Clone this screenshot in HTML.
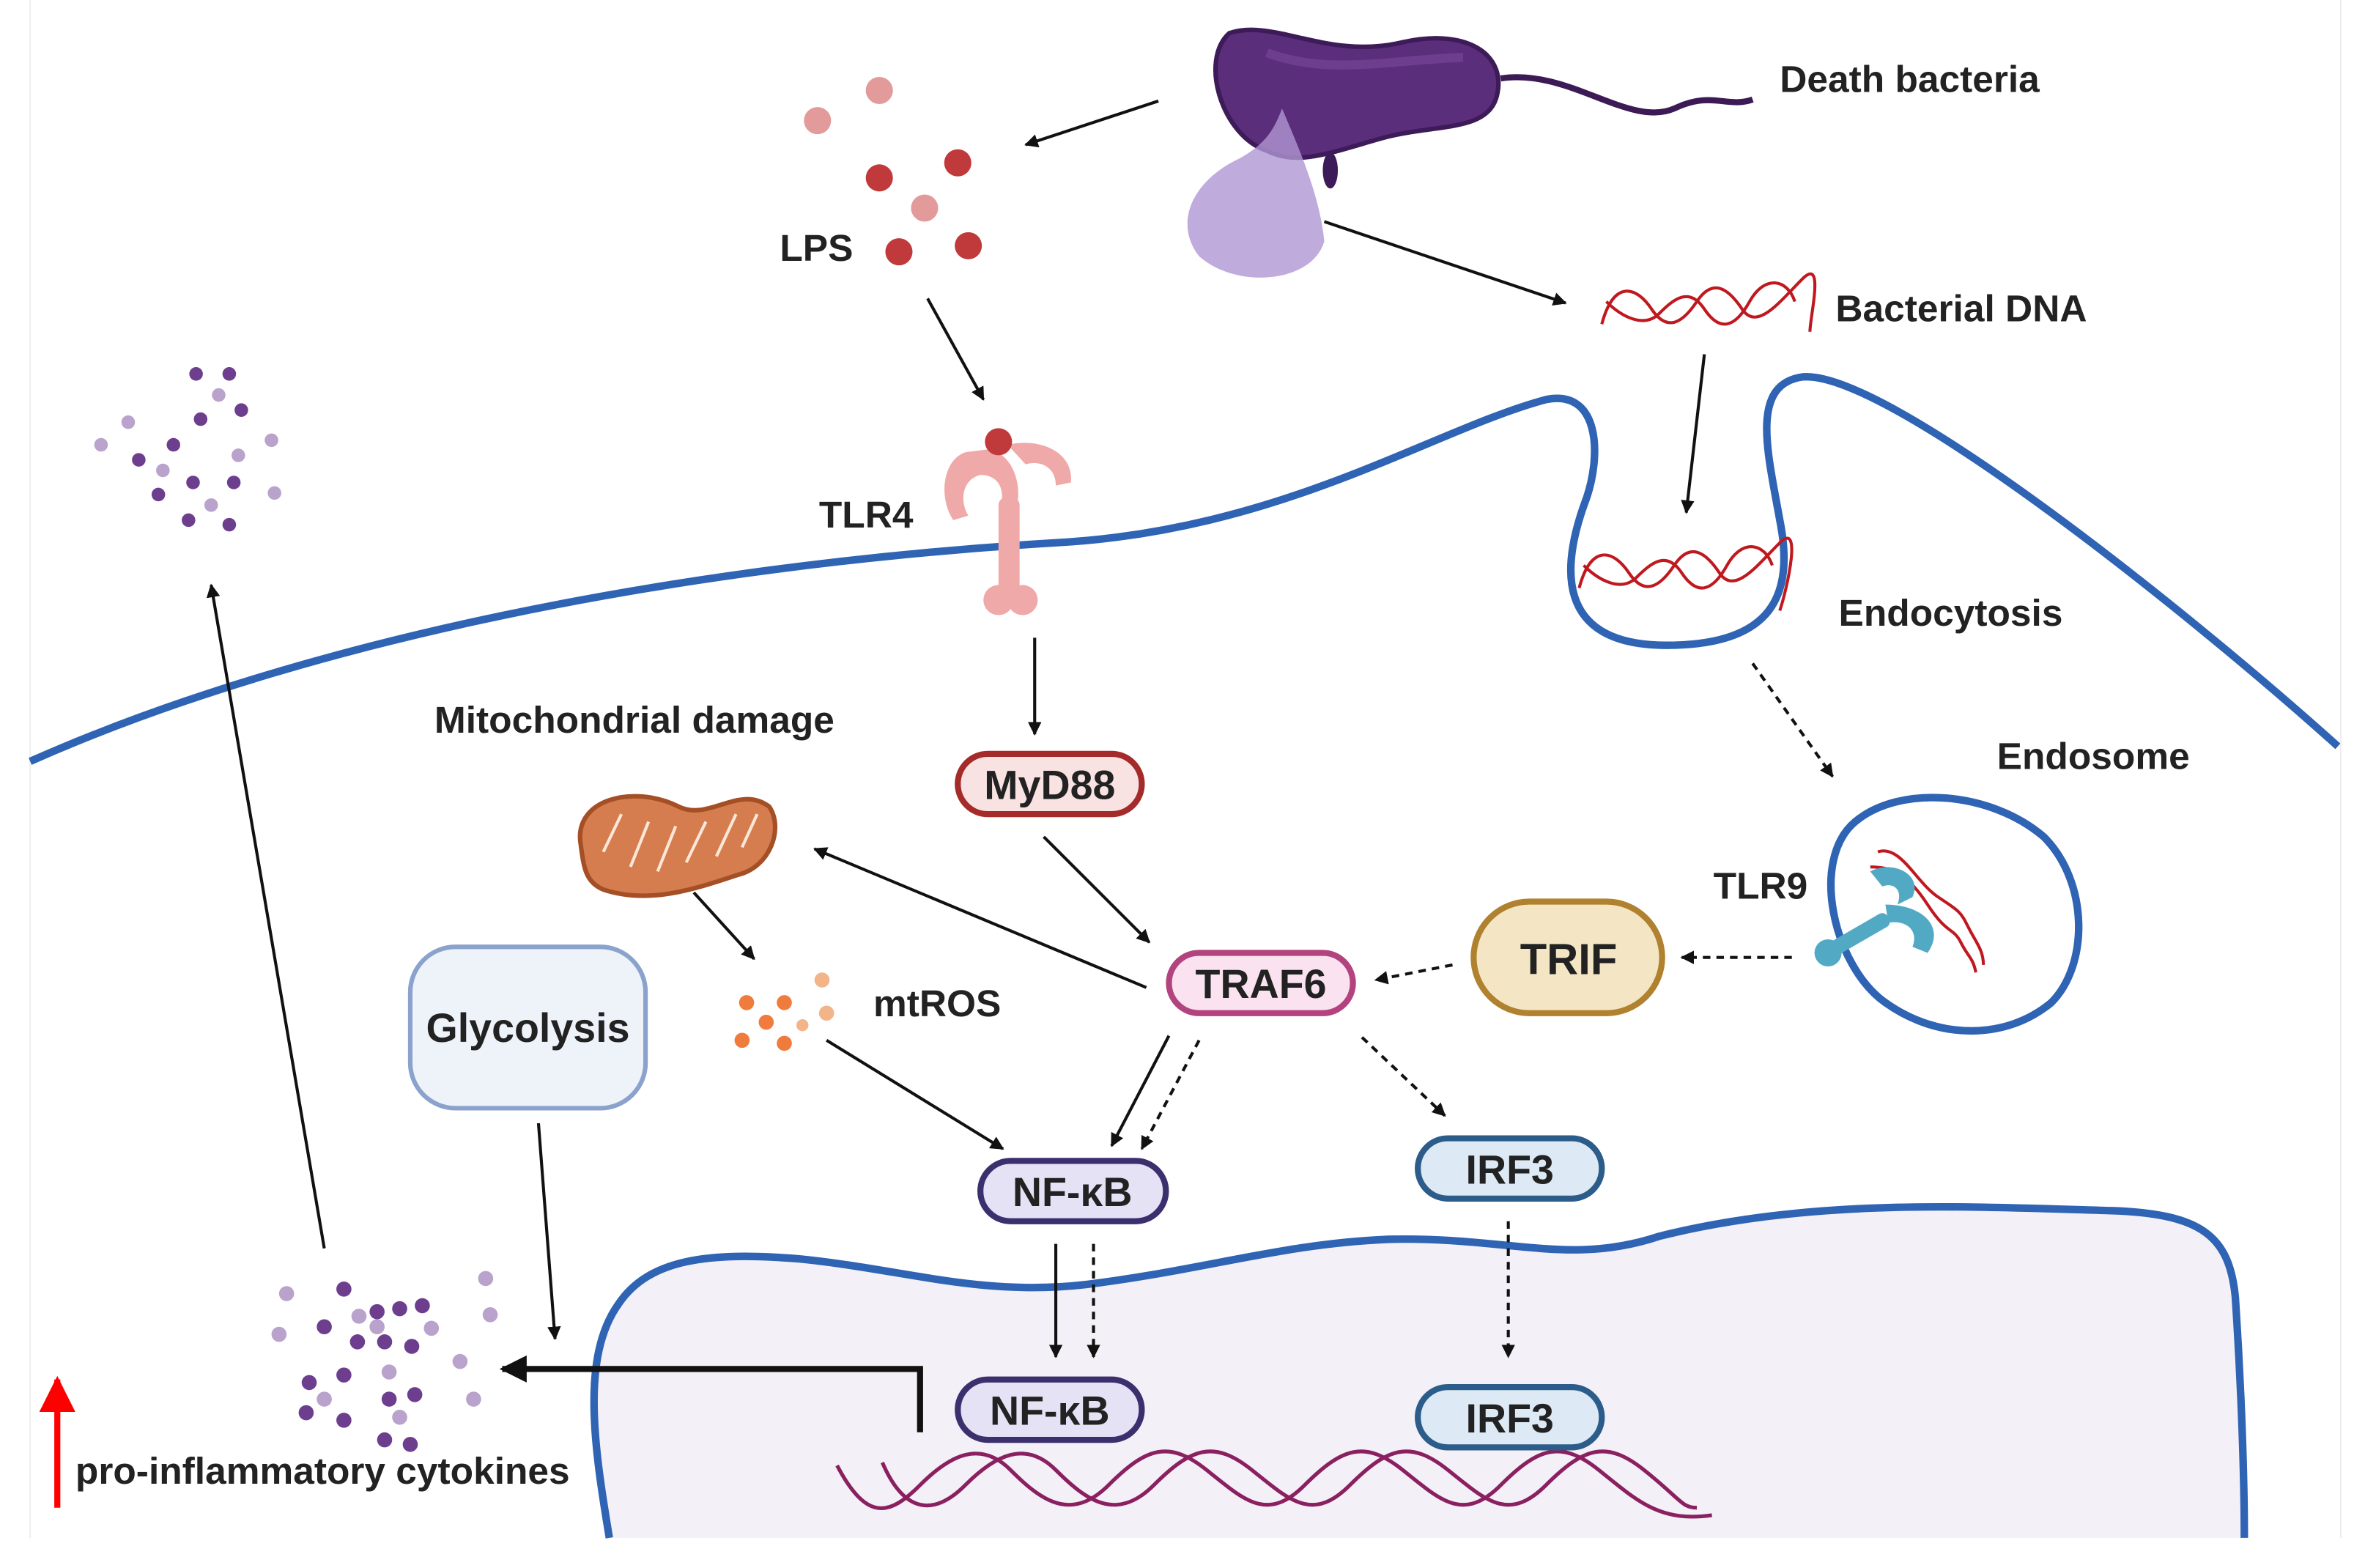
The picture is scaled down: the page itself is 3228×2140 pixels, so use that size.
<!DOCTYPE html>
<html><head><meta charset="utf-8"><style>
html,body{margin:0;padding:0;background:#fff;}
svg{display:block;}
text{font-family:"Liberation Sans",sans-serif;font-weight:bold;fill:#222;}
</style></head><body>
<svg width="3228" height="2140" viewBox="0 0 1568 1040" preserveAspectRatio="none" xmlns="http://www.w3.org/2000/svg">
<defs>
<marker id="ah" viewBox="0 0 10 10" refX="9" refY="5" markerWidth="9" markerHeight="9" orient="auto" markerUnits="userSpaceOnUse"><path d="M0,0 L10,5 L0,10 z" fill="#111"/></marker>
<marker id="ahs" viewBox="0 0 10 10" refX="9" refY="5" markerWidth="18" markerHeight="18" orient="auto" markerUnits="userSpaceOnUse"><path d="M0,0 L10,5 L0,10 z" fill="#111"/></marker>
<marker id="ahr" viewBox="0 0 10 10" refX="9" refY="5" markerWidth="6" markerHeight="6" orient="auto"><path d="M0,0 L10,5 L0,10 z" fill="#f00"/></marker>
</defs>
<rect width="1568" height="1040" fill="#fff"/>
<line x1="20" y1="0" x2="20" y2="1020" stroke="#eee" stroke-width="1"/>
<line x1="1552" y1="0" x2="1552" y2="1020" stroke="#eee" stroke-width="1"/>

<!-- nucleus -->
<path d="M404,1020 C394,960 385,900 410,865 C430,835 470,830 530,835 C600,842 650,860 720,852 C800,842 850,825 920,822 C1000,820 1040,840 1100,820 C1200,795 1300,800 1400,803 C1460,805 1478,820 1482,860 C1486,920 1488,980 1488,1020 Z" fill="#f4f0f7" stroke="none"/>
<path d="M404,1020 C394,960 385,900 410,865 C430,835 470,830 530,835 C600,842 650,860 720,852 C800,842 850,825 920,822 C1000,820 1040,840 1100,820 C1200,795 1300,800 1400,803 C1460,805 1478,820 1482,860 C1486,920 1488,980 1488,1020" fill="none" stroke="#2f63b3" stroke-width="5"/>

<!-- membrane -->
<path d="M20,505 C200,425 450,375 700,360 C850,352 950,285 1025,265 C1060,258 1062,300 1052,330 C1035,375 1030,428 1105,428 C1175,428 1190,395 1180,345 C1172,300 1160,255 1195,250 C1250,245 1450,405 1550,495" fill="none" stroke="#2f63b3" stroke-width="5"/>

<!-- endosome -->
<path d="M1230,545 C1260,520 1320,525 1355,555 C1385,585 1385,640 1360,665 C1330,690 1285,690 1250,665 C1215,640 1200,570 1230,545 Z" fill="none" stroke="#2f63b3" stroke-width="5"/>

<!-- DNA helix -->
<g fill="none" stroke="#8a2060" stroke-width="2.5">
<path d="M555,972 C575,1010 590,1005 610,985 S650,955 670,975 S710,1010 735,985 S775,955 800,975 S840,1010 865,985 S905,955 930,975 S970,1010 995,985 S1035,955 1060,975 S1100,1010 1135,1005"/>
<path d="M585,970 C600,1005 620,1005 640,985 S680,955 700,975 S740,1010 765,985 S805,955 830,975 S870,1010 895,985 S935,955 960,975 S1000,1010 1025,985 S1065,955 1090,975 S1115,1000 1125,1000"/>
</g>

<!-- bacteria -->
<path d="M995,52 C1040,45 1080,85 1110,72 C1135,60 1145,72 1162,66" fill="none" stroke="#3b1a55" stroke-width="4"/>
<path d="M815,22 C845,12 880,40 930,28 C975,18 1000,38 992,65 C985,88 950,82 915,92 C880,102 860,110 840,100 C810,90 795,40 815,22 Z" fill="#5a2e7a" stroke="#3d1a58" stroke-width="3"/>
<path d="M840,35 C880,50 920,40 970,38" fill="none" stroke="#7a4a9a" stroke-width="6" opacity="0.6"/>
<path d="M850,72 C862,100 875,130 878,160 C870,188 820,192 795,170 C778,148 790,120 822,105 C840,95 845,85 850,72 Z" fill="#b096d4" opacity="0.8"/>
<ellipse cx="882" cy="113" rx="5" ry="12" fill="#3d1a58"/>

<!-- LPS dots -->
<g fill="#e29a9a"><circle cx="583" cy="60" r="9"/><circle cx="542" cy="80" r="9"/><circle cx="613" cy="138" r="9"/></g>
<g fill="#c0393b"><circle cx="583" cy="118" r="9"/><circle cx="635" cy="108" r="9"/><circle cx="596" cy="167" r="9"/><circle cx="642" cy="163" r="9"/></g>

<!-- bacterial DNA -->
<g fill="none" stroke="#c0181f" stroke-width="2">
<path d="M1062,215 C1070,185 1085,190 1095,205 S1115,215 1125,200 S1145,190 1155,205 S1180,200 1195,185 S1200,210 1200,220"/>
<path d="M1065,200 C1075,210 1090,218 1100,208 S1120,190 1130,205 S1150,218 1160,200 S1185,185 1190,200"/>
<path d="M1047,390 C1055,360 1070,365 1080,380 S1100,390 1110,375 S1130,365 1140,380 S1165,375 1180,360 S1185,390 1180,405"/>
<path d="M1050,375 C1060,385 1075,393 1085,383 S1105,365 1115,380 S1135,393 1145,375 S1170,360 1175,375"/>
<path d="M1245,565 C1260,560 1270,585 1285,595 S1300,605 1305,615 S1315,630 1315,640"/>
<path d="M1240,575 C1255,575 1265,580 1278,600 S1295,615 1300,625 S1308,635 1310,645"/>
</g>

<!-- TLR4 -->
<g fill="#f0a9a9">
<path d="M640,300 C625,305 622,330 632,345 L642,342 C636,332 638,318 650,315 C662,315 668,325 662,340 L672,342 C680,325 672,300 655,298 Z"/>
<path d="M668,295 C690,290 712,300 710,320 L700,322 C700,310 690,305 680,308 Z"/>
<rect x="662" y="330" width="14" height="65" rx="5"/>
<circle cx="662" cy="398" r="10"/><circle cx="678" cy="398" r="10"/>
</g>
<circle cx="662" cy="293" r="9" fill="#c0393b"/>

<!-- TLR9 -->
<g fill="#52a9c4">
<path d="M1240,578 C1255,570 1275,580 1268,595 L1258,600 C1262,590 1255,585 1248,588 Z"/>
<path d="M1250,600 C1275,600 1290,615 1278,632 L1268,628 C1272,618 1265,610 1252,612 Z"/>
<rect x="1210" y="615" width="45" height="10" rx="4" transform="rotate(-30 1232 620)"/>
<circle cx="1212" cy="632" r="9"/>
</g>

<!-- mitochondrion -->
<path d="M385,560 C380,530 420,520 450,535 C470,545 490,520 510,535 C520,550 510,575 490,580 C460,590 430,600 400,590 C388,585 387,575 385,560 Z" fill="#d57d4e" stroke="#a44f25" stroke-width="3"/>
<g stroke="#fbe7d8" stroke-width="2"><line x1="400" y1="565" x2="412" y2="540"/><line x1="418" y1="575" x2="430" y2="545"/><line x1="436" y1="578" x2="448" y2="548"/><line x1="455" y1="572" x2="468" y2="545"/><line x1="475" y1="568" x2="488" y2="540"/><line x1="492" y1="562" x2="502" y2="540"/></g>

<!-- mtROS -->
<g fill="#ef7b3c"><circle cx="495" cy="665" r="5"/><circle cx="520" cy="665" r="5"/><circle cx="508" cy="678" r="5"/><circle cx="492" cy="690" r="5"/><circle cx="520" cy="692" r="5"/></g>
<g fill="#f3b48a"><circle cx="545" cy="650" r="5"/><circle cx="548" cy="672" r="5"/><circle cx="532" cy="680" r="4"/></g>

<!-- cytokines top -->
<g fill="#6e3e8e"><circle cx="130" cy="248" r="4.5"/><circle cx="152" cy="248" r="4.5"/><circle cx="160" cy="272" r="4.5"/><circle cx="133" cy="278" r="4.5"/><circle cx="115" cy="295" r="4.5"/><circle cx="92" cy="305" r="4.5"/><circle cx="128" cy="320" r="4.5"/><circle cx="155" cy="320" r="4.5"/><circle cx="105" cy="328" r="4.5"/><circle cx="125" cy="345" r="4.5"/><circle cx="152" cy="348" r="4.5"/></g>
<g fill="#b9a2cc"><circle cx="145" cy="262" r="4.5"/><circle cx="85" cy="280" r="4.5"/><circle cx="67" cy="295" r="4.5"/><circle cx="180" cy="292" r="4.5"/><circle cx="158" cy="302" r="4.5"/><circle cx="108" cy="312" r="4.5"/><circle cx="140" cy="335" r="4.5"/><circle cx="182" cy="327" r="4.5"/></g>
<!-- cytokines bottom -->
<g fill="#6e3e8e"><circle cx="228" cy="855" r="5"/><circle cx="250" cy="870" r="5"/><circle cx="265" cy="868" r="5"/><circle cx="280" cy="866" r="5"/><circle cx="215" cy="880" r="5"/><circle cx="237" cy="890" r="5"/><circle cx="255" cy="890" r="5"/><circle cx="273" cy="893" r="5"/><circle cx="205" cy="917" r="5"/><circle cx="228" cy="912" r="5"/><circle cx="258" cy="928" r="5"/><circle cx="275" cy="925" r="5"/><circle cx="203" cy="937" r="5"/><circle cx="228" cy="942" r="5"/><circle cx="255" cy="955" r="5"/><circle cx="272" cy="958" r="5"/></g>
<g fill="#b9a2cc"><circle cx="190" cy="858" r="5"/><circle cx="238" cy="873" r="5"/><circle cx="286" cy="881" r="5"/><circle cx="322" cy="848" r="5"/><circle cx="325" cy="872" r="5"/><circle cx="185" cy="885" r="5"/><circle cx="250" cy="880" r="5"/><circle cx="305" cy="903" r="5"/><circle cx="258" cy="910" r="5"/><circle cx="215" cy="928" r="5"/><circle cx="265" cy="940" r="5"/><circle cx="314" cy="928" r="5"/></g>

<!-- nodes -->
<g stroke-width="4">
<rect x="635" y="500" width="122" height="40" rx="20" fill="#f8e2e2" stroke="#a52a2a"/>
<rect x="775" y="632" width="122" height="40" rx="20" fill="#fbe2f0" stroke="#b3437e"/>
<rect x="977" y="598" width="125" height="74" rx="37" fill="#f4e6c4" stroke="#b0812f"/>
<rect x="650" y="770" width="123" height="40" rx="20" fill="#e4e2f4" stroke="#3b2f6e"/>
<rect x="940" y="755" width="122" height="40" rx="20" fill="#dde9f5" stroke="#2b5c8a"/>
<rect x="635" y="915" width="122" height="40" rx="20" fill="#e4e2f4" stroke="#3b2f6e"/>
<rect x="940" y="920" width="122" height="40" rx="20" fill="#dde9f5" stroke="#2b5c8a"/>
<rect x="272" y="628" width="156" height="107" rx="30" fill="#eef3fa" stroke="#8aa2cc" stroke-width="3"/>
</g>
<g font-size="27" text-anchor="middle">
<text x="696" y="530">MyD88</text>
<text x="836" y="662">TRAF6</text>
<text x="1040" y="646" font-size="29">TRIF</text>
<text x="711" y="800">NF-κB</text>
<text x="1001" y="785">IRF3</text>
<text x="696" y="945">NF-κB</text>
<text x="1001" y="950">IRF3</text>
<text x="350" y="691">Glycolysis</text>
</g>
<g font-size="25">
<text x="1180" y="61">Death bacteria</text>
<text x="517" y="173">LPS</text>
<text x="1217" y="213">Bacterial DNA</text>
<text x="543" y="350">TLR4</text>
<text x="1219" y="415">Endocytosis</text>
<text x="1324" y="510">Endosome</text>
<text x="288" y="486">Mitochondrial damage</text>
<text x="1136" y="596">TLR9</text>
<text x="579" y="674">mtROS</text>
<text x="50" y="984">pro-inflammatory cytokines</text>
</g>

<!-- arrows -->
<g stroke="#111" stroke-width="2" fill="none" marker-end="url(#ah)">
<line x1="768" y1="67" x2="680" y2="96"/>
<line x1="878" y1="147" x2="1038" y2="201"/>
<line x1="615" y1="198" x2="652" y2="265"/>
<line x1="1130" y1="235" x2="1118" y2="340"/>
<line x1="686" y1="423" x2="686" y2="487"/>
<line x1="692" y1="555" x2="762" y2="625"/>
<line x1="760" y1="655" x2="540" y2="563"/>
<line x1="460" y1="592" x2="500" y2="636"/>
<line x1="548" y1="690" x2="665" y2="762"/>
<line x1="775" y1="687" x2="737" y2="760"/>
<line x1="700" y1="825" x2="700" y2="900"/>
<line x1="357" y1="745" x2="368" y2="888"/>
<line x1="215" y1="828" x2="140" y2="388"/>
</g>
<g stroke="#111" stroke-width="2" fill="none" stroke-dasharray="5,4" marker-end="url(#ah)">
<line x1="795" y1="690" x2="757" y2="762"/>
<line x1="903" y1="688" x2="958" y2="740"/>
<line x1="963" y1="640" x2="912" y2="650"/>
<line x1="1188" y1="635" x2="1115" y2="635"/>
<line x1="1162" y1="440" x2="1215" y2="515"/>
<line x1="1000" y1="810" x2="1000" y2="900"/>
<line x1="725" y1="825" x2="725" y2="900"/>
</g>
<path d="M610,950 L610,908 L333,908" fill="none" stroke="#111" stroke-width="4" marker-end="url(#ahs)"/>
<line x1="38" y1="1000" x2="38" y2="915" stroke="#f00" stroke-width="4" marker-end="url(#ahr)"/>
</svg>
</body></html>
